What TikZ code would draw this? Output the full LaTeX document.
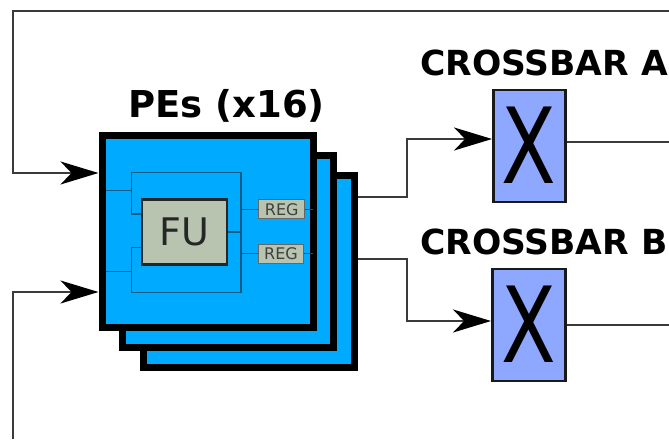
\documentclass[tikz,border=0pt]{standalone}
\usepackage{fontspec}
\setmainfont{DejaVu Sans}
\usetikzlibrary{arrows.meta}
\definecolor{peblue}{HTML}{00AAFF}
\definecolor{fugray}{HTML}{B9C4B0}
\definecolor{xblue}{HTML}{8FA8FF}
\definecolor{inner}{HTML}{0A5C85}
\definecolor{wirec}{HTML}{3A3A3A}
\tikzset{
  pebox/.style={draw=black,fill=peblue,line width=7pt,minimum width=211pt,minimum height=192pt,inner sep=0pt},
  fubox/.style={draw=black!85,fill=fugray,line width=2.5pt,minimum width=85pt,minimum height=65pt,inner sep=0pt,font=\fontsize{38}{38}\selectfont,text=black!85},
  regbox/.style={draw=black!60,fill=fugray,line width=1.2pt,minimum height=19pt,inner sep=0pt,font=\fontsize{16}{16}\selectfont,text=black!75},
  xbox/.style={draw=black!90,fill=xblue,line width=2.5pt,minimum width=72pt,minimum height=112pt,inner sep=0pt},
  title/.style={inner sep=0pt,text=black},
  wire/.style={draw=wirec,line width=2pt},
  arrowwire/.style={wire,-{Stealth[length=38pt,width=23pt,inset=11pt,color=black]}},
  innerwire/.style={draw=inner,line width=1.5pt},
}
\newcommand{\bigx}{\raisebox{2pt}{\scalebox{0.76}[1]{\fontsize{105}{105}\selectfont X}}}
\begin{document}
\begin{tikzpicture}[x=1pt,y=-1pt]
\useasboundingbox (0,0) rectangle (669,439);
\fill[white] (0,0) rectangle (669,439);
% free ends
\coordinate (topright) at (669,11);
\coordinate (topleft) at (13,11);
\coordinate (botleft) at (13,439);
\coordinate (aright) at (669,142);
\coordinate (bright) at (669,325);
% PE stack
\node[pebox] (pe3) at (248.5,271.5) {};
\node[pebox] (pe2) at (228.2,251.5) {};
\node[pebox] (pe1) at (207.5,231) {};
% FU and registers
\node[fubox] (fu) at (184.7,232) {FU};
\node[regbox,minimum width=46pt] (reg1) at (281.7,209.3) {REG};
\node[regbox,minimum width=45pt] (reg2) at (281,253.7) {REG};
\coordinate (jr) at (241,232);
% inner wires
\draw[innerwire] (fu.west |- 0,214) -- (131.5,214) -- (131.5,172.3) -- (241,172.3) -- (241,292.3) -- (131.5,292.3) -- (131.5,247.7) -- (fu.west |- 0,247.7);
\draw[innerwire] (pe1.west |- 0,190.3) ++(7,0) -- (131.5,190.3);
\draw[innerwire] (pe1.west |- 0,271.7) ++(7,0) -- (131.5,271.7);
\draw[innerwire] (fu.east |- jr) -- (jr);
\draw[innerwire] (jr |- reg1.west) -- (reg1.west);
\draw[innerwire] (jr |- reg2.west) -- (reg2.west);
\draw[innerwire] (reg1.east) -- (313,209.3);
\draw[innerwire] (reg2.east) -- (313,253.7);
% crossbars
\node[xbox] (xa) at (529.3,146) {\bigx};
\node[xbox,minimum width=73pt] (xb) at (528.8,325) {\bigx};
% titles
\node[title,anchor=base,font=\fontsize{37}{37}\selectfont\bfseries] (tpe) at (226.5,117) {PEs (x16)};
\node[title,anchor=base west,font=\fontsize{34.5}{34.5}\selectfont\bfseries] (ta) at (420,75) {CROSSBAR A};
\node[title,anchor=base west,font=\fontsize{34.5}{34.5}\selectfont\bfseries] (tb) at (420,254) {CROSSBAR B};
% wires
\draw[wire] (xa.east |- aright) -- (aright);
\draw[wire] (xb.east |- bright) -- (bright);
\draw[arrowwire] (topright) -- (topleft) -- (13,173) -- (pe1.west |- 0,173);
\draw[arrowwire] (botleft) -- (13,292) -- (pe1.west |- 0,292);
\draw[arrowwire] (pe3.east |- 0,197) -- (407,197) -- (407,139) -- (xa.west |- 0,139);
\draw[arrowwire] (pe3.east |- 0,259) -- (407,259) -- (407,321) -- (xb.west |- 0,321);
\end{tikzpicture}
\end{document}
